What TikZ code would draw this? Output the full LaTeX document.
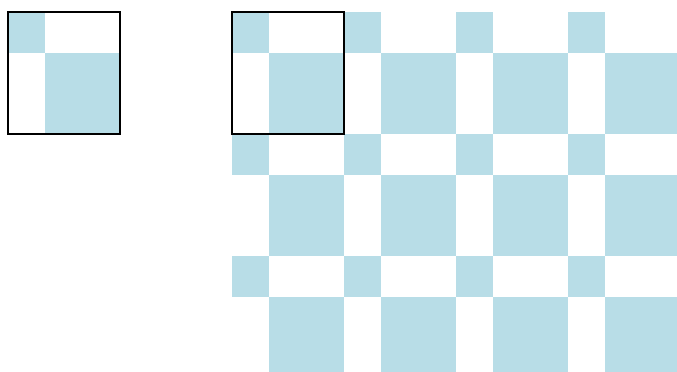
\documentclass[tikz,border=0pt]{standalone}
\usepackage{xcolor}
\usepackage{tikz}
\definecolor{tile}{HTML}{B8DDE7}
\tikzset{
  smalltile/.style={fill=tile},
  bigtile/.style={fill=tile},
  frame/.style={draw=black, line width=1.6pt},
}
% one period: small square, then the big one below right of it
\newcommand{\cell}[2]{%
  \path[smalltile] (#1,#2) rectangle ++(1,1);
  \path[bigtile] (#1+1,#2+1) rectangle ++(2,2);}

\begin{document}
\begin{tikzpicture}[x=37.333pt,y=-40.667pt]
  \coordinate (tl) at (-0.2143,-0.295);
  \coordinate (br) at (17.92,8.828);
  \useasboundingbox (tl) rectangle (br);
  % single unit
  \cell{0}{0}
  \draw[frame] (0,0) rectangle (3,3);
  % tiling
  \begin{scope}
    \clip (tl) rectangle (br);
    \foreach \i in {0,...,3}
      \foreach \j in {0,...,2} {\cell{6+3*\i}{3*\j}}
  \end{scope}
  \draw[frame] (6,0) rectangle (9,3);
\end{tikzpicture}
\end{document}
